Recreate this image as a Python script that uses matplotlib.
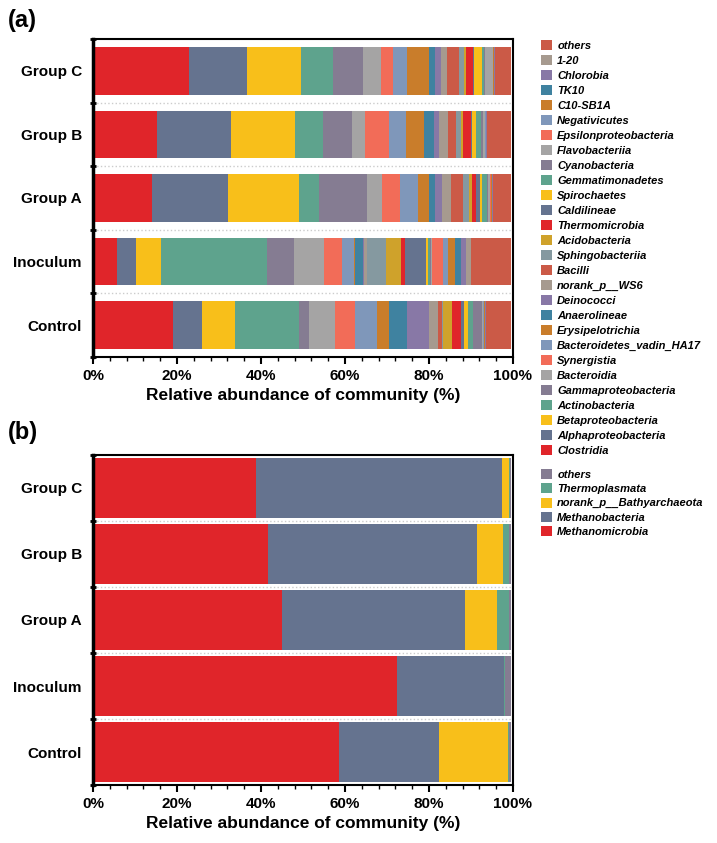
import numpy as np
import matplotlib.pyplot as plt
from matplotlib.ticker import MultipleLocator, FuncFormatter

groups = ['Control', 'Inoculum', 'Group A', 'Group B', 'Group C']

taxa_a = ['Clostridia', 'Alphaproteobacteria', 'Betaproteobacteria', 'Actinobacteria',
          'Gammaproteobacteria', 'Bacteroidia', 'Synergistia', 'Bacteroidetes_vadin_HA17',
          'Erysipelotrichia', 'Anaerolineae', 'Deinococci', 'norank_p__WS6', 'Bacilli',
          'Sphingobacteriia', 'Acidobacteria', 'Thermomicrobia', 'Caldilineae', 'Spirochaetes',
          'Gemmatimonadetes', 'Cyanobacteria', 'Flavobacteriia', 'Epsilonproteobacteria',
          'Negativicutes', 'C10-SB1A', 'TK10', 'Chlorobia', '1-20', 'others']

# values per group (%), order = taxa_a
control_a = [19.3, 7.0, 8.0, 15.3, 2.3, 6.4, 4.8, 5.2, 2.9, 4.4, 5.3, 2.1, 1.0, 0.2,
             2.2, 2.1, 0.7, 1.0, 1.2, 2.3, 0.1, 0.1, 0.3, 0.1, 0.1, 0.1, 0.1, 6.0]
inoculum_a = [5.7, 4.5, 6.0, 25.3, 6.3, 7.3, 4.3, 2.7, 0.4, 1.8, 0.3, 0.6, 0.2, 4.5,
              3.5, 1.0, 4.9, 0.6, 0.3, 0.4, 0.3, 2.4, 1.3, 1.6, 1.4, 1.3, 1.2, 9.5]
groupA_a = [14.3, 18.3, 17.2, 4.8, 11.4, 3.6, 4.5, 4.4, 2.5, 1.6, 1.7, 2.1, 2.8, 1.6,
            0.6, 1.1, 0.8, 0.6, 1.1, 0.3, 0.5, 0.2, 0.1, 0.1, 0.1, 0.1, 0.1, 4.3]
groupB_a = [15.4, 17.9, 15.2, 6.8, 7.1, 2.9, 5.9, 4.1, 4.2, 2.5, 1.2, 2.2, 1.8, 1.3,
            0.6, 1.8, 0.3, 0.8, 1.3, 0.4, 0.5, 0.1, 0.1, 0.1, 0.1, 0.1, 0.1, 5.7]
groupC_a = [23.1, 13.9, 13.0, 7.6, 7.4, 4.2, 2.9, 3.5, 5.3, 1.4, 1.4, 1.5, 2.9, 1.1,
            0.5, 1.6, 0.3, 1.9, 0.5, 0.2, 1.9, 0.1, 0.1, 0.1, 0.1, 0.1, 0.1, 3.8]

taxa_b = ['Methanomicrobia', 'Methanobacteria', 'norank_p__Bathyarchaeota', 'Thermoplasmata', 'others']
control_b = [58.9, 23.9, 16.5, 0.3, 0.4]
inoculum_b = [72.7, 25.6, 0.1, 0.3, 1.3]
groupA_b = [45.2, 43.8, 7.7, 2.9, 0.4]
groupB_b = [41.9, 50.0, 6.2, 1.5, 0.4]
groupC_b = [39.0, 58.8, 1.7, 0.2, 0.3]

palette = ['#E0252A', '#65738F', '#F8BF1A', '#5EA38D', '#857C92', '#A5A4A4', '#F26C58',
           '#7F97BA', '#C97D2B', '#3F82A0', '#8878A6', '#A69A8F', '#CB5A47', '#8599A0', '#CFA22B']

plt.rcParams['font.family'] = ['Liberation Sans', 'DejaVu Sans']

fig = plt.figure(figsize=(7.17, 8.43), dpi=100)
ax1 = fig.add_axes([93/717, 1-357/843, 420/717, 318/843])
ax2 = fig.add_axes([93/717, 1-785/843, 420/717, 330/843])


def draw(ax, data, taxa, height, lx, ly, spacing):
    data = np.array(data, dtype=float)
    data = data / data.sum(axis=1, keepdims=True) * 99.5
    y = np.arange(len(groups))
    left = np.zeros(len(groups))
    handles = []
    for i, t in enumerate(taxa):
        h = ax.barh(y, data[:, i], left=left, height=height, color=palette[i % 15],
                    edgecolor='none', label=t)
        handles.append(h)
        left += data[:, i]
    ax.set_xlim(0, 100)
    ax.set_ylim(-0.5, len(groups) - 0.5)
    ax.set_yticks(y)
    ax.set_yticklabels(groups, fontsize=11, fontweight='bold')
    ax.set_yticks(np.arange(len(groups) + 1) - 0.5, minor=True)
    ax.tick_params(axis='y', which='major', length=0, pad=8)
    ax.tick_params(axis='y', which='minor', length=5, width=2, direction='inout')
    for b in np.arange(1, len(groups)) - 0.5:
        ax.axhline(b, color='#cccccc', lw=1, ls=':', zorder=0)
    ax.xaxis.set_major_locator(MultipleLocator(20))
    ax.xaxis.set_minor_locator(MultipleLocator(4))
    ax.xaxis.set_major_formatter(FuncFormatter(lambda v, p: '%d%%' % v))
    ax.tick_params(axis='x', which='major', length=5, width=1.5, labelsize=11)
    ax.tick_params(axis='x', which='minor', length=3, width=1)
    for lab in ax.get_xticklabels():
        lab.set_fontweight('bold')
    for s in ax.spines.values():
        s.set_linewidth(1.5)
    ax.spines['left'].set_linewidth(2.5)
    ax.set_xlabel('Relative abundance of community (%)', fontsize=12.5, fontweight='bold')
    leg = ax.legend(handles[::-1], taxa[::-1], loc='upper left', bbox_to_anchor=(lx, ly),
                    frameon=False, prop={'size': 8, 'style': 'italic', 'weight': 'bold'},
                    handlelength=1.0, handleheight=1.0, handletextpad=0.5,
                    labelspacing=spacing, borderaxespad=0)
    return leg


draw(ax1, [control_a, inoculum_a, groupA_a, groupB_a, groupC_a], taxa_a, 0.75, 1.055, 1.01, 0.38)
draw(ax2, [control_b, inoculum_b, groupA_b, groupB_b, groupC_b], taxa_b, 0.9, 1.055, 0.97, 0.3)

fig.text(8/717, 1-20/843, '(a)', fontsize=17, fontweight='bold', va='center')
fig.text(8/717, 1-432/843, '(b)', fontsize=17, fontweight='bold', va='center')

fig.savefig('out.png', dpi=100)
